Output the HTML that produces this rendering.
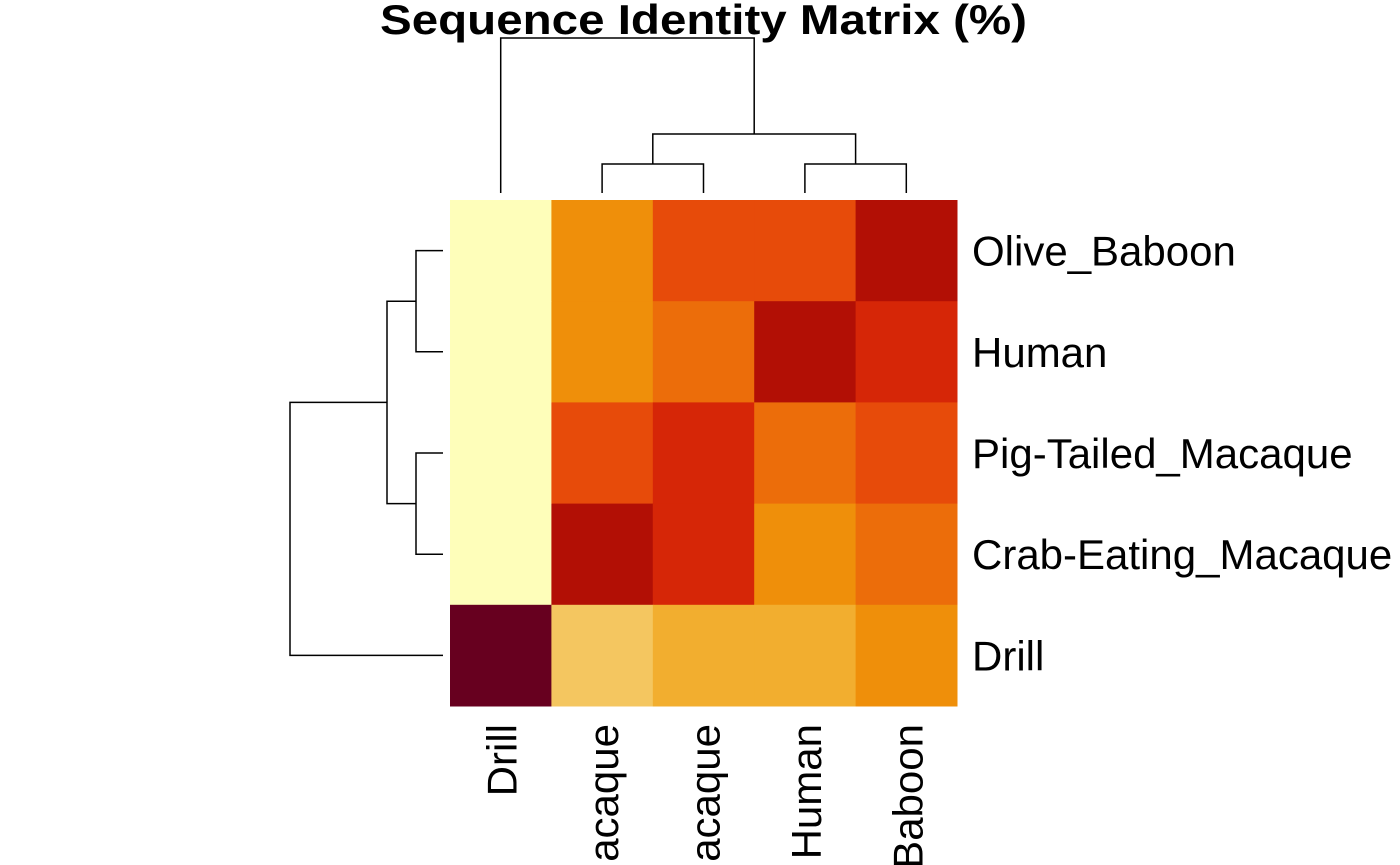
<!DOCTYPE html>
<html><head><meta charset="utf-8"><style>
html,body{margin:0;padding:0;background:#fff;overflow:hidden;width:1400px;height:865px}
svg{display:block}
text{font-family:"Liberation Sans",Arial,sans-serif;fill:#000}
</style></head><body>
<svg id="chart" width="1400" height="865" viewBox="0 0 1400 865" overflow="hidden">
<text x="380" y="34" font-size="42" font-weight="bold" textLength="647" lengthAdjust="spacingAndGlyphs">Sequence Identity Matrix (%)</text>
<g id="cells"></g>
<g id="labels"></g>
<g id="dendro" stroke="#000" stroke-width="1.5" fill="none"></g>
</svg>
<script>
const colLabels = ["Drill","Crab-Eating_Macaque","Pig-Tailed_Macaque","Human","Olive_Baboon"];
const rowLabels = ["Olive_Baboon","Human","Pig-Tailed_Macaque","Crab-Eating_Macaque","Drill"];
const values = [
  [0,3,5,5,7],
  [0,3,4,7,6],
  [0,5,6,4,5],
  [0,7,6,3,4],
  [8,1,2,2,3]
];
const palette = ["#FEFEBA","#F4C660","#F2AE2F","#EF8F0A","#EC6D0A","#E74B0A","#D62607","#B20F05","#67001F"];
const x0=450, y0=200, cw=101.4, ch=101.2;
const NS="http://www.w3.org/2000/svg";
const cells=document.getElementById('cells');
const labels=document.getElementById('labels');
const dendro=document.getElementById('dendro');
const xs=i=>x0+i*cw, ys=j=>y0+j*ch;
values.forEach((row,j)=>row.forEach((v,i)=>{
  const r=document.createElementNS(NS,'rect');
  r.setAttribute('x',xs(i));r.setAttribute('y',ys(j));
  r.setAttribute('width',cw+0.5);r.setAttribute('height',ch+0.5);
  r.setAttribute('fill',palette[Math.max(0,Math.min(8,Math.round(v)))]);
  
  
  cells.appendChild(r);
}));
rowLabels.forEach((l,j)=>{
  const t=document.createElementNS(NS,'text');
  t.setAttribute('x',972);t.setAttribute('y',ys(j)+ch/2+15);
  t.setAttribute('font-size','42');t.textContent=l;
  
  
  labels.appendChild(t);
});
colLabels.forEach((l,i)=>{
  const cx=xs(i)+cw/2+16, cy=724;
  const t=document.createElementNS(NS,'text');
  t.setAttribute('x',cx);t.setAttribute('y',cy);
  t.setAttribute('text-anchor','end');
  t.setAttribute('transform','rotate(-90 '+cx+' '+cy+')');
  t.setAttribute('font-size','42');t.textContent=l;
  
  
  labels.appendChild(t);
});
function path(d,name){
  const p=document.createElementNS(NS,'path');p.setAttribute('d',d);
  
  
  dendro.appendChild(p);
}
const cc=i=>xs(i)+cw/2, rc=j=>ys(j)+ch/2;
path(`M${cc(1)},193 V164 H${cc(2)} V193`,'col-dendro-macaques');
path(`M${cc(3)},193 V164 H${cc(4)} V193`,'col-dendro-human-baboon');
const m1=(cc(1)+cc(2))/2, m2=(cc(3)+cc(4))/2;
path(`M${m1},164 V134 H${m2} V164`,'col-dendro-inner');
const m3=(m1+m2)/2;
path(`M${cc(0)},193 V38 H${m3} V134`,'col-dendro-root');
path(`M443,${rc(0)} H416 V${rc(1)} H443`,'row-dendro-baboon-human');
path(`M443,${rc(2)} H416 V${rc(3)} H443`,'row-dendro-macaques');
const r1=(rc(0)+rc(1))/2, r2=(rc(2)+rc(3))/2;
path(`M416,${r1} H387 V${r2} H416`,'row-dendro-inner');
const r3=(r1+r2)/2;
path(`M387,${r3} H290 V${rc(4)} H443`,'row-dendro-root');
</script>
</body></html>
